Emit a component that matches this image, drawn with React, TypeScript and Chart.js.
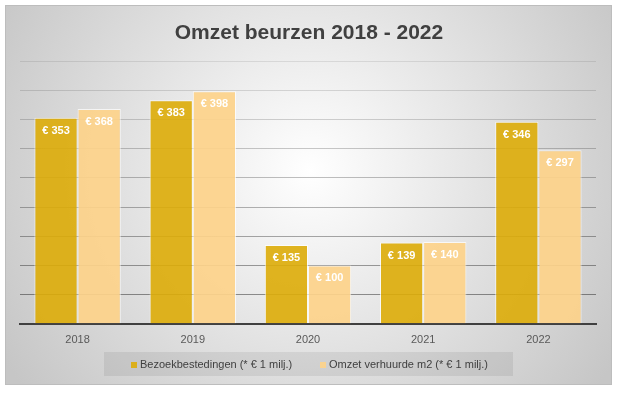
import React, { useEffect, useRef } from "react";
import { Chart, registerables } from "chart.js";

Chart.register(...registerables);

const categories = ["2018", "2019", "2020", "2021", "2022"];
const bezoek = [353, 383, 135, 139, 346];
const omzet = [368, 398, 100, 140, 297];
const seriesLabels = ["Bezoekbestedingen (* € 1 milj.)", "Omzet verhuurde m2 (* € 1 milj.)"];
const titleText = "Omzet beurzen 2018 - 2022";

const GOLD = "rgba(221,172,8,0.9)";
const PEACH = "rgba(253,211,138,0.92)";
const FONT = "'Liberation Sans', Arial, sans-serif";

const bgPlugin = {
  id: "bgPlugin",
  beforeDraw(chart: any) {
    const ctx = chart.ctx;
    ctx.save();
    ctx.fillStyle = "#ffffff";
    ctx.fillRect(0, 0, chart.width, chart.height);
    const g = ctx.createRadialGradient(310, 170, 0, 310, 170, 360);
    g.addColorStop(0, "#ffffff");
    g.addColorStop(1, "#c6c6c6");
    ctx.fillStyle = g;
    ctx.fillRect(5.5, 5.5, 606, 379);
    ctx.strokeStyle = "#bdbdbd";
    ctx.lineWidth = 1;
    ctx.strokeRect(5.5, 5.5, 606, 379);
    // title
    ctx.fillStyle = "#404040";
    ctx.font = "bold 21px " + FONT;
    ctx.textAlign = "center";
    ctx.textBaseline = "middle";
    ctx.fillText(titleText, 309, 33);
    ctx.restore();
  },
  afterDraw(chart: any) {
    const ctx = chart.ctx;
    ctx.save();
    // data labels
    ctx.font = "bold 11px " + FONT;
    ctx.fillStyle = "#ffffff";
    ctx.textAlign = "center";
    ctx.textBaseline = "middle";
    chart.data.datasets.forEach((ds: any, di: number) => {
      const meta = chart.getDatasetMeta(di);
      meta.data.forEach((bar: any, i: number) => {
        ctx.fillText("€ " + ds.data[i], bar.x, bar.y + 13);
      });
    });
    // legend
    const lx = 104, ly = 352, lw = 409, lh = 24;
    ctx.fillStyle = "rgba(0,0,0,0.07)";
    ctx.fillRect(lx, ly, lw, lh);
    ctx.font = "11px " + FONT;
    ctx.textAlign = "left";
    const starts = [131, 320];
    chart.data.datasets.forEach((ds: any, di: number) => {
      const x = starts[di];
      ctx.fillStyle = ds.backgroundColor;
      ctx.fillRect(x, 362, 6, 6);
      ctx.fillStyle = "#404040";
      ctx.fillText(ds.label, x + 9, 365);
    });
    ctx.restore();
  },
};

export default function App() {
  const ref = useRef<HTMLCanvasElement>(null);
  useEffect(() => {
    document.body.style.margin = "0";
    const chart = new Chart(ref.current!, {
      type: "bar",
      data: {
        labels: categories,
        datasets: [
          { label: seriesLabels[0], data: bezoek, backgroundColor: GOLD, borderColor: "rgba(255,255,255,0.7)", borderWidth: 1 },
          { label: seriesLabels[1], data: omzet, backgroundColor: PEACH, borderColor: "rgba(255,255,255,0.7)", borderWidth: 1 },
        ],
      },
      options: {
        animation: false,
        responsive: false,
        maintainAspectRatio: false,
        layout: { padding: { left: 20, right: 22, top: 61, bottom: 45 } },
        datasets: { bar: { categoryPercentage: 0.75, barPercentage: 1 } },
        plugins: { legend: { display: false }, title: { display: false }, tooltip: { enabled: false } },
        scales: {
          x: {
            grid: { display: false },
            border: { display: true, color: "#404040", width: 2 },
            ticks: { color: "#595959", font: { size: 11, family: FONT }, padding: 2 },
          },
          y: {
            min: 0,
            max: 450,
            ticks: { display: false, stepSize: 50 },
            border: { display: false },
            grid: {
              drawTicks: false,
              color: (c: any) => {
                const v = c.tick ? c.tick.value : 0;
                const a = 0.45 - (v / 450) * 0.36;
                return `rgba(0,0,0,${a.toFixed(3)})`;
              },
            },
          },
        },
      },
      plugins: [bgPlugin],
    });
    return () => chart.destroy();
  }, []);
  return (
    <div style={{ position: "absolute", left: 0, top: 0, width: 618, height: 394 }}>
      <canvas ref={ref} width={618} height={394} />
    </div>
  );
}
